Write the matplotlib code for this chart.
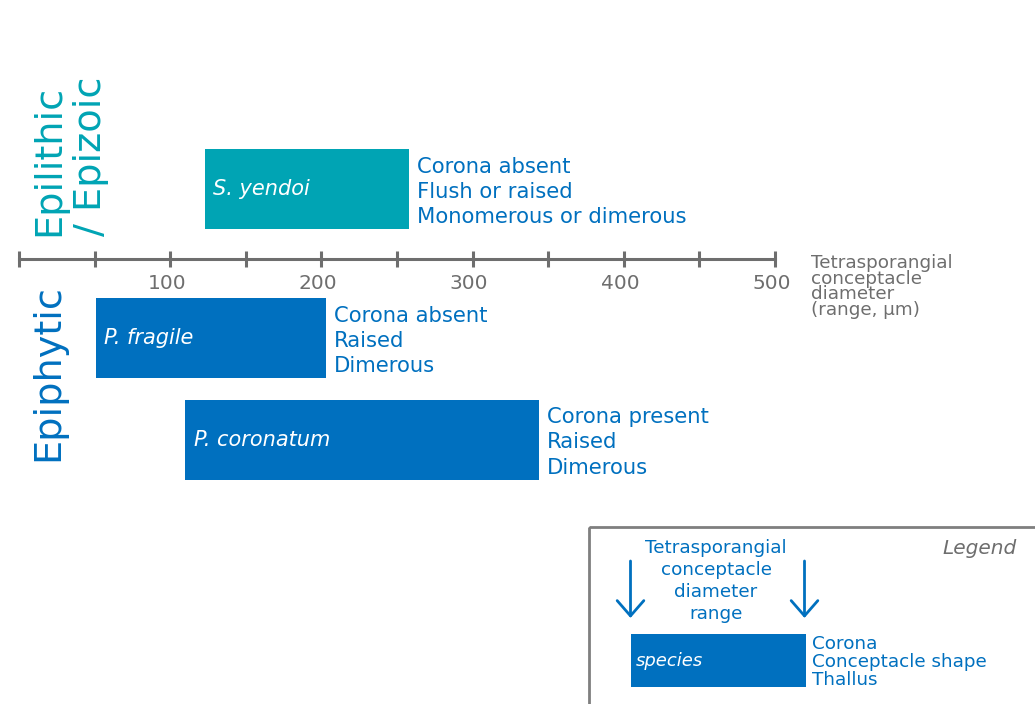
import matplotlib.pyplot as plt
import matplotlib.transforms as mtransforms
import numpy as np
from matplotlib.patches import Rectangle

# data: tetrasporangial conceptacle diameter range (um)
species = ["S. yendoi", "P. fragile", "P. coronatum"]
diam_min = [123, 51, 110]
diam_max = [258, 203, 344]
traits = [
    "Corona absent\nFlush or raised\nMonomerous or dimerous",
    "Corona absent\nRaised\nDimerous",
    "Corona present\nRaised\nDimerous",
]
habitat = ["Epilithic / Epizoic", "Epiphytic", "Epiphytic"]
tick_values = np.arange(0, 501, 50)
tick_labels = ["" if (v == 0 or v % 100) else str(v) for v in tick_values]

TEAL = "#00a4b4"
BLUE = "#0070bf"
GRAY = "#6e6e6e"

plt.rcParams["font.family"] = "DejaVu Sans"

W, H = 1035, 704
fig = plt.figure(figsize=(W / 100, H / 100), dpi=100)

# main axes: x in um, y in pixel rows so the layout can be placed freely
ax = fig.add_axes([19 / W, 0, 756 / W, 1])
ax.set_xlim(0, 500)
ax.set_ylim(H, 0)
for s in ["left", "right", "top"]:
    ax.spines[s].set_visible(False)
ax.spines["bottom"].set_position(("data", 259))
ax.spines["bottom"].set_color(GRAY)
ax.spines["bottom"].set_linewidth(2.2)
ax.set_yticks([])
ax.set_xticks(tick_values)
ax.set_xticklabels(tick_labels)
ax.tick_params(axis="x", direction="inout", length=12, width=2.2, color=GRAY,
               labelcolor=GRAY, labelsize=14.5, pad=5)
shift = mtransforms.ScaledTranslation(-3.5 / 100, 0, fig.dpi_scale_trans)
for lbl in ax.get_xticklabels():
    lbl.set_transform(lbl.get_transform() + shift)
ax.patch.set_visible(False)

rows = [189, 338, 439.5]
colors = [TEAL if h.startswith("Epilithic") else BLUE for h in habitat]
ax.barh(rows, np.array(diam_max) - np.array(diam_min), left=diam_min,
        height=80, color=colors, edgecolor="none")
for y, lo, hi, name, tr in zip(rows, diam_min, diam_max, species, traits):
    ax.annotate(name, (lo, y), xytext=(6, 0), textcoords="offset points",
                ha="left", va="center", color="white", fontsize=15, style="italic")
    ax.annotate(tr, (hi, y + 3), xytext=(5.5, 0), textcoords="offset points",
                ha="left", va="center", color=BLUE, fontsize=15.2, linespacing=1.34)

# overlay in pixel coordinates for labels and the legend panel
lax = fig.add_axes([0, 0, 1, 1])
lax.set_xlim(0, W)
lax.set_ylim(H, 0)
lax.axis("off")

lax.text(70, 236, "Epilithic\n/ Epizoic", rotation=90, ha="center", va="bottom",
         color=TEAL, fontsize=27.5, multialignment="left")
lax.text(48, 461, "Epiphytic", rotation=90, ha="center", va="bottom",
         color=BLUE, fontsize=27.5)
lax.text(811, 254, "Tetrasporangial\nconceptacle\ndiameter\n(range, \u00b5m)",
         ha="left", va="top", color=GRAY, fontsize=13.2, linespacing=0.83)

# legend panel
lax.add_patch(Rectangle((589, 527), 460, 200, fill=False, edgecolor="#7f7f7f",
                        linewidth=2, clip_on=False))
lax.text(1017, 548, "Legend", ha="right", va="center", color="#6e6e6e",
         fontsize=14.5, style="italic")
lax.text(716, 581, "Tetrasporangial\nconceptacle\ndiameter\nrange", ha="center",
         va="center", color=BLUE, fontsize=13.2, linespacing=1.3)
for ax_x in (630.5, 804.5):
    lax.annotate("", xy=(ax_x, 618), xytext=(ax_x, 561),
                 arrowprops=dict(arrowstyle="->,head_length=0.55,head_width=0.48",
                                 color=BLUE, lw=2, mutation_scale=20,
                                 shrinkA=0, shrinkB=0))
lax.add_patch(Rectangle((631, 634), 175, 53, color=BLUE, linewidth=0))
lax.text(636, 661, "species", ha="left", va="center", color="white",
         fontsize=13, style="italic")
lax.text(812, 662, "Corona\nConceptacle shape\nThallus", ha="left", va="center",
         color=BLUE, fontsize=13.2, linespacing=1.0)

fig.savefig("out.png", dpi=100)
